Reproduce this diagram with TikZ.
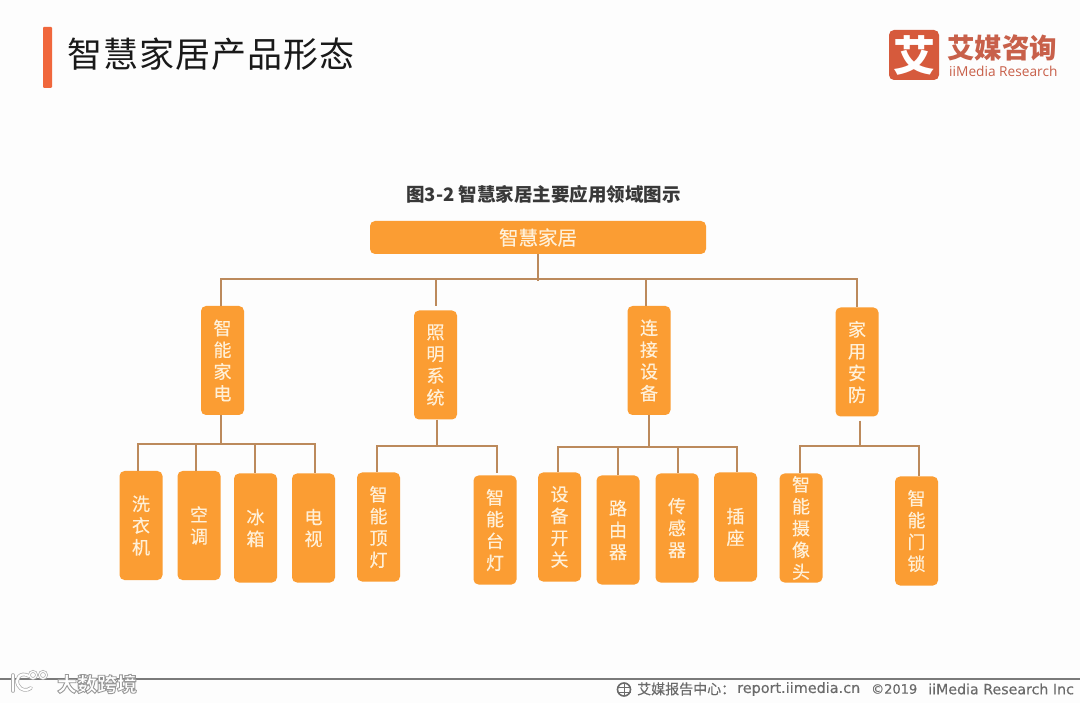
\documentclass[tikz,border=0pt]{standalone}
\usepackage{fontspec}
\setmainfont{Noto Sans CJK SC}
\newfontfamily\cjk{Noto Sans CJK SC}
\newfontfamily\cjkm[FakeBold=0.3]{Noto Sans CJK SC}
\newfontfamily\latinf[FakeBold=0.15]{DejaVu Sans}
\newfontfamily\opensans{Open Sans}
\definecolor{boxor}{HTML}{FB9D33}
\definecolor{boxtx}{HTML}{FFF0D8}
\definecolor{conn}{HTML}{BC8A5C}
\definecolor{barc}{HTML}{F0673C}
\definecolor{logoc}{HTML}{D65A3C}
\definecolor{logot}{HTML}{C8604A}
\definecolor{foot}{HTML}{6A6A6A}
\definecolor{paper}{HTML}{FDFDFD}
\tikzset{
  x=1pt,y=-1pt,
  orgbox/.style={fill=boxor,draw=none,rounded corners=5pt,minimum width=43pt,minimum height=109pt,
    inner sep=0pt,align=center,text=boxtx,font=\cjkm\fontsize{18}{21.8}\selectfont},
  link/.style={draw=conn,line width=2pt},
  foottext/.style={anchor=west,inner sep=0pt,text=foot},
  wmline/.style={draw=white,line width=2.2pt,line cap=round},
  wmhalo/.style={draw=black!32,line width=3.6pt,line cap=round},
  wmring/.style={draw=white,line width=1.2pt},
  wmringh/.style={draw=black!32,line width=2.6pt},
}
\begin{document}
\begin{tikzpicture}
\path[use as bounding box,fill=paper] (0,0) rectangle (1080,703);
% header
\fill[barc,rounded corners=1pt] (43,27) rectangle (52,88);
\node[anchor=west,inner sep=0pt,text=black!90,font=\cjk\fontsize{35}{35}\selectfont] (title) at (67,54) {\addfontfeature{LetterSpace=3}智慧家居产品形态};
% logo
\node[fill=logoc,rounded corners=5pt,minimum width=50pt,minimum height=50pt,inner sep=0pt,text=white,font=\cjk\bfseries\fontsize{42}{42}\selectfont] (logo) at (914,55) {艾};
\node[anchor=west,inner sep=0pt,text=logot,font=\cjk\bfseries\fontsize{27.5}{28}\selectfont] (logocn) at (947,47.5) {艾媒咨询};
\node[anchor=west,inner sep=0pt,text=logot,font=\opensans\fontsize{13.7}{15}\selectfont] (logoen) at (949,71.5) {iiMedia Research};
% subtitle
\node[inner sep=0pt,text=black!78,font=\cjk\bfseries\fontsize{18.5}{18}\selectfont] (sub) at (543.5,194) {图3-2 智慧家居主要应用领域图示};
% root
\node[orgbox,minimum width=336pt,minimum height=33pt,font=\cjkm\fontsize{19.5}{20}\selectfont] (root) at (538,237.5) {智慧家居};
% level 1
\node[orgbox] (a) at (222.5,360.5) {智\\能\\家\\电};
\node[orgbox] (b) at (435.5,365) {照\\明\\系\\统};
\node[orgbox] (c) at (649,360.5) {连\\接\\设\\备};
\node[orgbox] (d) at (857,362) {家\\用\\安\\防};
% level 2
\node[orgbox] (a1) at (141,525.5) {洗\\衣\\机};
\node[orgbox] (a2) at (199,525.5) {空\\调};
\node[orgbox] (a3) at (255.5,528) {冰\\箱};
\node[orgbox] (a4) at (313.5,528) {电\\视};
\node[orgbox] (b1) at (378.5,527) {智\\能\\顶\\灯};
\node[orgbox] (b2) at (495,530) {智\\能\\台\\灯};
\node[orgbox] (c1) at (559.5,527) {设\\备\\开\\关};
\node[orgbox] (c2) at (618,530) {路\\由\\器};
\node[orgbox] (c3) at (677,528) {传\\感\\器};
\node[orgbox] (c4) at (735.5,527) {插\\座};
\node[orgbox] (d1) at (801,528) {智\\能\\摄\\像\\头};
\node[orgbox] (d2) at (916.5,531) {智\\能\\门\\锁};
% bus coordinates
\coordinate (r0) at (537.5,281);
\coordinate (rL) at (221,279.5);
\coordinate (rR) at (857,279.5);
\coordinate (rb) at (435.5,279.5);
\coordinate (rc) at (645.5,279.5);
\coordinate (aL) at (138,444);
\coordinate (aM) at (221,444);
\coordinate (aR) at (315,444);
\coordinate (a2b) at (196,444);
\coordinate (a3b) at (255,444);
\coordinate (bL) at (377,446);
\coordinate (bM) at (437,446);
\coordinate (bR) at (497,446);
\coordinate (cL) at (558,447);
\coordinate (cM) at (649,447);
\coordinate (cR) at (737,447);
\coordinate (c2b) at (617.5,447);
\coordinate (c3b) at (678,447);
\coordinate (dL) at (800,446);
\coordinate (dM) at (860,446);
\coordinate (dR) at (919,446);
% root connectors
\draw[link] (r0 |- root.south) -- (r0);
\draw[link,line cap=rect] (rL) -- (rR);
\draw[link] (rL) -- (rL |- a.north);
\draw[link,shorten >=4pt] (rb) -- (rb |- b.north);
\draw[link] (rc) -- (rc |- c.north);
\draw[link] (rR) -- (rR |- d.north);
% level 1 to level 2
\draw[link] (aM |- a.south) -- (aM);
\draw[link,line cap=rect] (aL) -- (aR);
\draw[link] (aL) -- (aL |- a1.north);
\draw[link] (a2b) -- (a2b |- a2.north);
\draw[link] (a3b) -- (a3b |- a3.north);
\draw[link] (aR) -- (aR |- a4.north);
\draw[link] (bM |- b.south) -- (bM);
\draw[link,line cap=rect] (bL) -- (bR);
\draw[link] (bL) -- (bL |- b1.north);
\draw[link,shorten >=2pt] (bR) -- (bR |- b2.north);
\draw[link] (cM |- c.south) -- (cM);
\draw[link,line cap=rect] (cL) -- (cR);
\draw[link] (cL) -- (cL |- c1.north);
\draw[link] (c2b) -- (c2b |- c2.north);
\draw[link] (c3b) -- (c3b |- c3.north);
\draw[link] (cR) -- (cR |- c4.north);
\draw[link,shorten <=4pt] (dM |- d.south) -- (dM);
\draw[link,line cap=rect] (dL) -- (dR);
\draw[link] (dL) -- (dL |- d1.north);
\draw[link] (dR) -- (dR |- d2.north);
% footer
\draw[draw=black!52,line width=1.5pt] (0,679) -- (1080,679);
% watermark icon
\foreach \s/\r in {wmhalo/wmringh,wmline/wmring}{
  \draw[\s] (13,675) -- (13,691);
  \draw[\s] (29,676) .. controls (20,671) and (15,679) .. (18,685) .. controls (21,691) and (27,691) .. (31,688);
  \draw[\r] (33,675) circle (3.6) (43,675) circle (3.6);
}
% watermark text: white fill, grey outline
\node[inner sep=0pt,text=white,font=\cjk\bfseries\fontsize{20}{20}\selectfont] (wmtext) at (97,684)
  {\special{pdf:code 2 Tr 0.9 w 0.6 G 1 g}大数跨境\special{pdf:code 0 Tr}};
% footer source
\draw[foot,line width=1.6pt] (624,689.5) circle (6.5);
\draw[foot,line width=1pt] (617.5,687) -- (630.5,687) (617.5,692) -- (630.5,692) (624,683) -- (624,696);
\node[foottext,font=\cjkm\fontsize{14}{14}\selectfont] (fcn) at (637,689) {艾媒报告中心：};
\node[foottext,font=\latinf\fontsize{14.4}{14}\selectfont] (furl) at (737,689) {report.iimedia.cn};
\node[foottext,font=\latinf\fontsize{13}{14}\selectfont] (fcp) at (871,689) {©2019};
\node[foottext,font=\latinf\fontsize{14.2}{14}\selectfont] (fin) at (928,689) {iiMedia Research Inc};
\end{tikzpicture}
\end{document}
